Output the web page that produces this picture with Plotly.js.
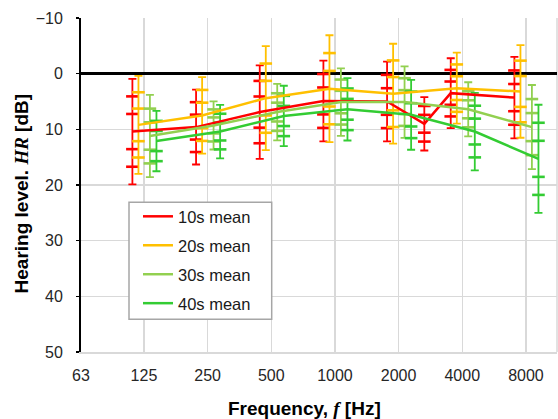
<!DOCTYPE html>
<html>
<head>
<meta charset="utf-8">
<script src="https://cdn.plot.ly/plotly-3.0.1.min.js"></script>
<style>html,body{margin:0;padding:0;background:#fff;}#chart{width:558px;height:419px;}</style>
</head>
<body>
<div id="chart"></div>
<script>
// ---- data ----
const freq10 = [125, 250, 500, 1000, 2000, 3000, 4000, 8000];
const freqOther = [125, 250, 500, 1000, 2000, 4000, 8000];

const mean10 = [10.4, 9.6, 6.9, 4.9, 5.0, 9.0, 3.5, 4.3];
const sd10   = [3.16, 2.24, 2.8, 2.42, 2.39, 1.6, 2.09, 2.44];

const mean20 = [9.2, 7.5, 4.4, 2.7, 3.6, 2.6, 3.2];
const sd20   = [2.93, 2.29, 3.11, 3.2, 2.99, 2.13, 2.77];

const mean30 = [11.2, 9.3, 6.9, 5.1, 5.1, 6.4, 9.6];
const sd30   = [2.46, 1.44, 1.69, 2.02, 2.14, 1.62, 2.52];

const mean40 = [12.1, 10.4, 7.6, 6.4, 7.4, 10.4, 15.3];
const sd40   = [1.81, 1.6, 1.81, 1.87, 2.09, 2.32, 3.24];

const seriesNames = ['10s mean', '20s mean', '30s mean', '40s mean'];
const xTickVals = [63, 125, 250, 500, 1000, 2000, 4000, 8000];
const xTickText = ['63', '125', '250', '500', '1000', '2000', '4000', '8000'];
const yTickVals = [-10, 0, 10, 20, 30, 40, 50];

// ---- styles ----
const colors = ['#ff0000', '#ffc000', '#92d050', '#33cc33'];
const dodge = [0.882, 0.942, 1.067, 1.146]; // horizontal dodge factor (log axis)
const FONT = 'Liberation Sans, Arial, sans-serif';

const series = [
  {f: freq10, m: mean10, s: sd10},
  {f: freqOther, m: mean20, s: sd20},
  {f: freqOther, m: mean30, s: sd30},
  {f: freqOther, m: mean40, s: sd40}
];

const traces = [];
// error bars (±3 SD with caps) + inner ticks (±1, ±2 SD)
series.forEach((d, i) => {
  const xs = d.f.map(v => v * dodge[i]);
  traces.push({
    x: xs, y: d.m, type: 'scatter', mode: 'none', showlegend: false, hoverinfo: 'skip',
    error_y: {type: 'data', array: d.s.map(v => 3 * v), visible: true,
              color: colors[i], thickness: 1.8, width: 4}
  });
  const tx = [], ty = [];
  xs.forEach((x, k) => {
    [-2, -1, 1, 2].forEach(n => { tx.push(x); ty.push(d.m[k] + n * d.s[k]); });
  });
  traces.push({
    x: tx, y: ty, type: 'scatter', mode: 'markers', showlegend: false, hoverinfo: 'skip',
    marker: {symbol: 'line-ew', size: 9, color: colors[i], line: {color: colors[i], width: 2.6}}
  });
});
// mean lines
series.forEach((d, i) => {
  traces.push({
    x: d.f.map(v => v * dodge[i]), y: d.m, type: 'scatter', mode: 'lines',
    name: seriesNames[i], legendgroup: 'g' + i,
    line: {color: colors[i], width: 2.5}
  });
});

const xr = [Math.log10(63), Math.log10(63) + 2.2506];

const layout = {
  width: 558, height: 419,
  margin: {l: 81, r: 1, t: 18, b: 67},
  paper_bgcolor: '#fff', plot_bgcolor: '#fff',
  font: {family: FONT, size: 16, color: '#262626'},
  showlegend: true,
  legend: {
    x: 0.1197, y: 0.4578, xanchor: 'left', yanchor: 'top',
    bgcolor: 'rgba(0,0,0,0)', borderwidth: 0,
    font: {family: FONT, size: 16.5, color: '#1a1a1a'},
    traceorder: 'grouped', tracegroupgap: 4.5
  },
  xaxis: {
    type: 'log', range: xr, tickvals: xTickVals, ticktext: xTickText,
    showgrid: true, gridcolor: '#d9d9d9', gridwidth: 1.5,
    showline: true, linecolor: '#d9d9d9', linewidth: 1.5,
    ticks: '', zeroline: false, ticklabelstandoff: 8,
    tickfont: {family: FONT, size: 16, color: '#262626'}
  },
  xaxis2: {
    type: 'log', range: xr, overlaying: 'x', anchor: 'free', position: 50 / 60,
    tickvals: xTickVals.slice(1), showticklabels: false,
    ticks: 'outside', ticklen: 4, tickwidth: 2, tickcolor: '#000',
    showgrid: false, showline: false, zeroline: false
  },
  yaxis: {
    range: [50, -10], tickvals: yTickVals,
    showgrid: true, gridcolor: '#d9d9d9', gridwidth: 1.5,
    zeroline: true, zerolinecolor: '#000', zerolinewidth: 2.5,
    showline: true, linecolor: '#000', linewidth: 2,
    ticks: 'outside', ticklen: 3, tickcolor: '#000', tickwidth: 1.5,
    ticklabelstandoff: 10,
    tickfont: {family: FONT, size: 16, color: '#262626'}
  },
  shapes: [
    // legend frame
    {type: 'rect', xref: 'paper', yref: 'paper', layer: 'above',
     x0: (129 - 81) / 476, x1: (271.7 - 81) / 476,
     y0: (352 - 319.3) / 334, y1: (352 - 202.3) / 334,
     fillcolor: '#fff', line: {color: '#a6a6a6', width: 1.5}},
    // right plot edge
    {type: 'line', xref: 'paper', yref: 'paper', layer: 'below',
     x0: 1, x1: 1, y0: 0, y1: 1, line: {color: '#d9d9d9', width: 1.5}}
  ],
  annotations: [
    {text: '<b>Frequency, <span style="font-family:\'Liberation Serif\',serif"><i>f</i></span> [Hz]</b>',
     xref: 'paper', yref: 'paper', x: 0.4685, y: -0.1677, xanchor: 'center', yanchor: 'middle',
     showarrow: false, font: {family: FONT, size: 19, color: '#000'}},
    {text: '<b>Hearing level. <span style="font-family:\'Liberation Serif\',serif"><i>HR</i></span> [dB]</b>',
     xref: 'paper', yref: 'paper', x: -0.124, y: 0.4746, xanchor: 'center', yanchor: 'middle',
     textangle: -90, showarrow: false, font: {family: FONT, size: 19, color: '#000'}}
  ]
};

Plotly.newPlot('chart', traces, layout, {displayModeBar: false, staticPlot: true});
</script>
</body>
</html>
